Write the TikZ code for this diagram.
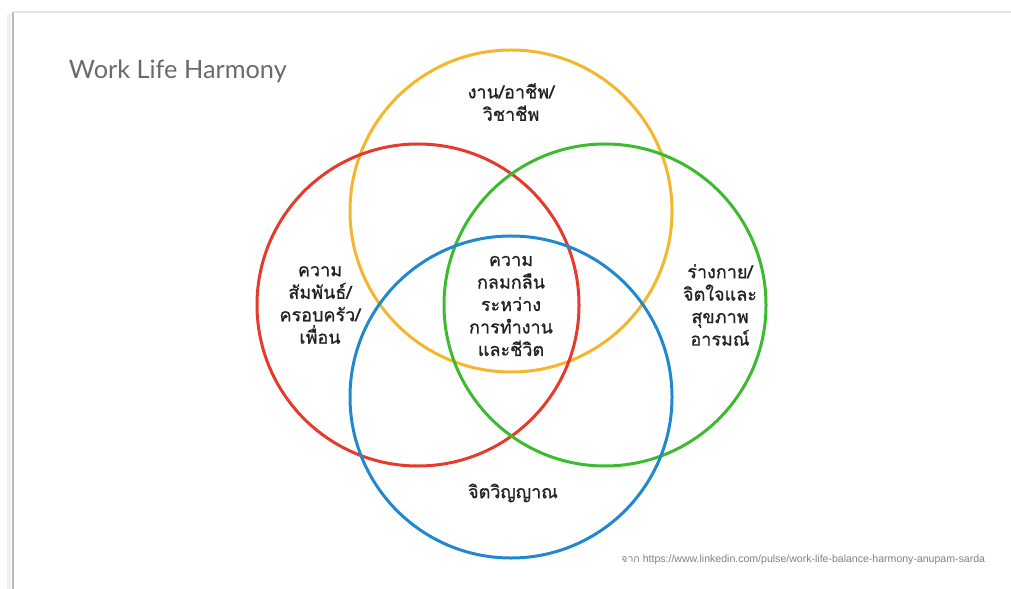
\documentclass[tikz,border=0pt]{standalone}
\usepackage{fontspec}
\newfontfamily\thaifont[Script=Thai, FakeBold=0.9]{Loma}
\newfontfamily\thaiplain[Script=Thai]{Loma}
\newfontfamily\titlefont{Lato}
\newfontfamily\linkfont{Liberation Sans}
\usetikzlibrary{positioning}
\definecolor{ringyellow}{HTML}{F4B62C}
\definecolor{ringred}{HTML}{E63A2C}
\definecolor{ringgreen}{HTML}{3DBB2E}
\definecolor{ringblue}{HTML}{2088CF}
\definecolor{textgray}{HTML}{222222}
\definecolor{titlegray}{HTML}{6A6A6A}

\begin{document}
\begin{tikzpicture}[
    x=0.25mm, y=-0.25mm,
    ring/.style={circle, draw, line width=0.75mm, minimum size=80.5mm, inner sep=0pt},
    lbl/.style={align=center, text=textgray, font=\thaifont\fontsize{12.8}{16}\selectfont}
]
    \useasboundingbox (0,0) rectangle (1011,589);
    % slide edges
    \draw[gray!12, line width=1.2mm] (9,14) -- (9,589);
    \draw[gray!55, line width=0.45mm] (13,12) -- (13,589);
    \draw[gray!22, line width=0.35mm] (13,12) -- (1011,12);

    \node[anchor=west, text=titlegray, font=\titlefont\fontsize{18}{20}\selectfont] (title) at (64,71) {Work Life Harmony};

    % circles
    \node[ring, draw=ringyellow] (work) at (511,211) {};
    \node[ring, draw=ringred] (family) at (418,305) {};
    \node[ring, draw=ringgreen] (health) at (605,305) {};
    \node[ring, draw=ringblue] (spirit) at (511,397) {};

    \node[lbl] (worklbl) at (511,102) {งาน/อาชีพ/\\วิชาชีพ};
    \node[lbl] (familylbl) at (320,305) {ความ\\สัมพันธ์/\\ครอบครัว/\\เพื่อน};
    \node[lbl] (healthlbl) at (720,305) {ร่างกาย/\\จิตใจและ\\สุขภาพ\\อารมณ์};
    \node[lbl] (spiritlbl) at (513,493) {จิตวิญญาณ};
    \node[lbl] (core) at (511,306) {ความ\\กลมกลืน\\ระหว่าง\\การทำงาน\\และชีวิต};

    \node[anchor=east, text=gray, font=\linkfont\fontsize{7.5}{8}\selectfont] (source) at (990,560) {{\thaiplain จาก} https://www.linkedin.com/pulse/work-life-balance-harmony-anupam-sarda};
\end{tikzpicture}
\end{document}
